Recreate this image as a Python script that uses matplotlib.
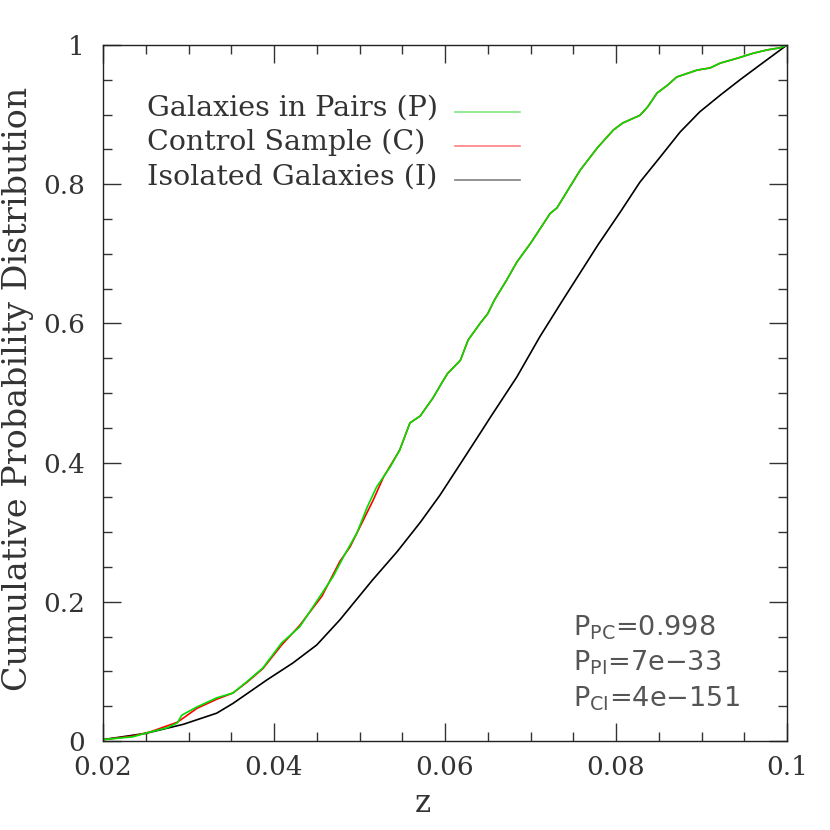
import matplotlib
matplotlib.use("Agg")
import matplotlib.pyplot as plt
from matplotlib.ticker import MultipleLocator

# ---- data ----
z_iso = [0.02, 0.025, 0.0294, 0.0333, 0.0352, 0.0392, 0.0422, 0.045, 0.0477, 0.0515,
         0.0544, 0.0571, 0.0594, 0.0621, 0.0641, 0.0653, 0.0684, 0.0711, 0.0738, 0.0779,
         0.0805, 0.0828, 0.0851, 0.0875, 0.0898, 0.0922, 0.0945, 0.0968, 0.1]
cdf_iso = [0.002, 0.011, 0.024, 0.040, 0.054, 0.088, 0.112, 0.138, 0.174, 0.231,
           0.272, 0.314, 0.353, 0.404, 0.442, 0.465, 0.523, 0.581, 0.634, 0.713,
           0.760, 0.803, 0.838, 0.875, 0.904, 0.928, 0.950, 0.971, 1.0]

z_pairs = [0.02, 0.0235, 0.0249, 0.0275, 0.0287, 0.0292, 0.031, 0.0333, 0.0352, 0.0368,
           0.0387, 0.0409, 0.043, 0.0456, 0.0469, 0.0481, 0.0497, 0.0509, 0.0520, 0.0536,
           0.0547, 0.0559, 0.0571, 0.0586, 0.0596, 0.0603, 0.0618, 0.0627, 0.0641, 0.0650,
           0.0658, 0.0672, 0.0684, 0.0700, 0.0723, 0.0731, 0.0758, 0.0778, 0.0797, 0.0808,
           0.0828, 0.0837, 0.0848, 0.0860, 0.0871, 0.0895, 0.0910, 0.0922, 0.0942, 0.0960,
           0.0977, 0.0992, 0.1]
cdf_pairs = [0.002, 0.006, 0.011, 0.019, 0.026, 0.037, 0.049, 0.062, 0.069, 0.085,
             0.105, 0.141, 0.164, 0.212, 0.236, 0.264, 0.299, 0.336, 0.365, 0.394,
             0.418, 0.457, 0.467, 0.493, 0.514, 0.528, 0.547, 0.576, 0.600, 0.614,
             0.634, 0.662, 0.688, 0.715, 0.758, 0.766, 0.820, 0.852, 0.878, 0.888,
             0.899, 0.911, 0.931, 0.942, 0.954, 0.964, 0.967, 0.974, 0.981, 0.988,
             0.993, 0.996, 1.0]

z_ctrl = [0.02, 0.0235, 0.0255, 0.0287, 0.031, 0.0333, 0.0352, 0.0368, 0.0387, 0.0409,
          0.043, 0.0456, 0.0477, 0.0489, 0.0516, 0.0528, 0.0547, 0.0559, 0.0571, 0.0586,
          0.0596, 0.0603, 0.0618, 0.0627, 0.0641, 0.0650, 0.0658, 0.0672, 0.0684, 0.0700,
          0.0723, 0.0731, 0.0758, 0.0778, 0.0797, 0.0808, 0.0828, 0.0837, 0.0848, 0.0860,
          0.0871, 0.0895, 0.0910, 0.0922, 0.0942, 0.0960, 0.0977, 0.0992, 0.1]
cdf_ctrl = [0.002, 0.007, 0.013, 0.027, 0.047, 0.060, 0.069, 0.084, 0.104, 0.138,
            0.166, 0.208, 0.258, 0.279, 0.346, 0.379, 0.418, 0.457, 0.467, 0.493,
            0.514, 0.528, 0.547, 0.576, 0.600, 0.614, 0.634, 0.662, 0.688, 0.715,
            0.758, 0.766, 0.820, 0.852, 0.878, 0.888, 0.899, 0.911, 0.931, 0.942,
            0.954, 0.964, 0.967, 0.974, 0.981, 0.988, 0.993, 0.996, 1.0]

legend_labels = ["Galaxies in Pairs (P)", "Control Sample (C)", "Isolated Galaxies (I)"]
prob_labels = [r"P$_{\rm PC}$=0.998", r"P$_{\rm PI}$=7e$-$33", r"P$_{\rm CI}$=4e$-$151"]

GREEN = "#00e000"
RED = "#ff0000"
BLACK = "#000000"
TXT = "#333333"

fig = plt.figure(figsize=(8.3, 8.3), dpi=100)
ax = fig.add_axes([103/830, 89/830, 684/830, 696/830])

ax.plot(z_iso, cdf_iso, color=BLACK, lw=1.2)
ax.plot(z_ctrl, cdf_ctrl, color=RED, lw=1.2)
ax.plot(z_pairs, cdf_pairs, color=GREEN, lw=1.2)

ax.set_xlim(0.02, 0.1)
ax.set_ylim(0, 1)
ax.xaxis.set_minor_locator(MultipleLocator(0.005))
ax.yaxis.set_minor_locator(MultipleLocator(0.05))
ax.set_xticks([0.02, 0.04, 0.06, 0.08, 0.1])
ax.set_xticklabels(["0.02", "0.04", "0.06", "0.08", "0.1"])
ax.set_yticks([0, 0.2, 0.4, 0.6, 0.8, 1.0])
ax.set_yticklabels(["0", "0.2", "0.4", "0.6", "0.8", "1"])

ax.tick_params(which="both", direction="in", top=True, right=True, color="#333333", width=1.0)
ax.tick_params(which="major", length=13, pad=10)
ax.tick_params(which="minor", length=6.5)
for lab in ax.get_xticklabels() + ax.get_yticklabels():
    lab.set_family("DejaVu Serif")
    lab.set_fontsize(19)
    lab.set_color(TXT)
ax.tick_params(axis="y", pad=13)
for s in ax.spines.values():
    s.set_color("#222222")
    s.set_linewidth(1.0)

ax.set_xlabel("z", family="DejaVu Serif", fontsize=22, color=TXT)
ax.xaxis.set_label_coords(0.468, -0.068)
ax.set_ylabel("Cumulative Probability Distribution", family="DejaVu Serif", fontsize=24,
              color=TXT)
ax.yaxis.set_label_coords(-0.101, 0.506)

# legend drawn by hand (left-aligned text, aligned line samples)
leg_colors = ["#80e880", "#ff8080", "#808080"]
leg_y = [0.898, 0.849, 0.800]
for lab, c, yy in zip(legend_labels, leg_colors, leg_y):
    ax.text(0.0251, yy, lab, family="DejaVu Serif", fontsize=20.5, color=TXT, va="baseline", ha="left")
    ax.plot([0.0612, 0.0688], [yy + 0.006, yy + 0.006], color=c, lw=1.2)

prob_y = [0.151, 0.101, 0.050]
for lab, yy in zip(prob_labels, prob_y):
    ax.text(0.0750, yy, lab, family="DejaVu Sans", fontsize=19.5, color="#555555",
            va="baseline", ha="left")

fig.savefig("out.png", dpi=100)
